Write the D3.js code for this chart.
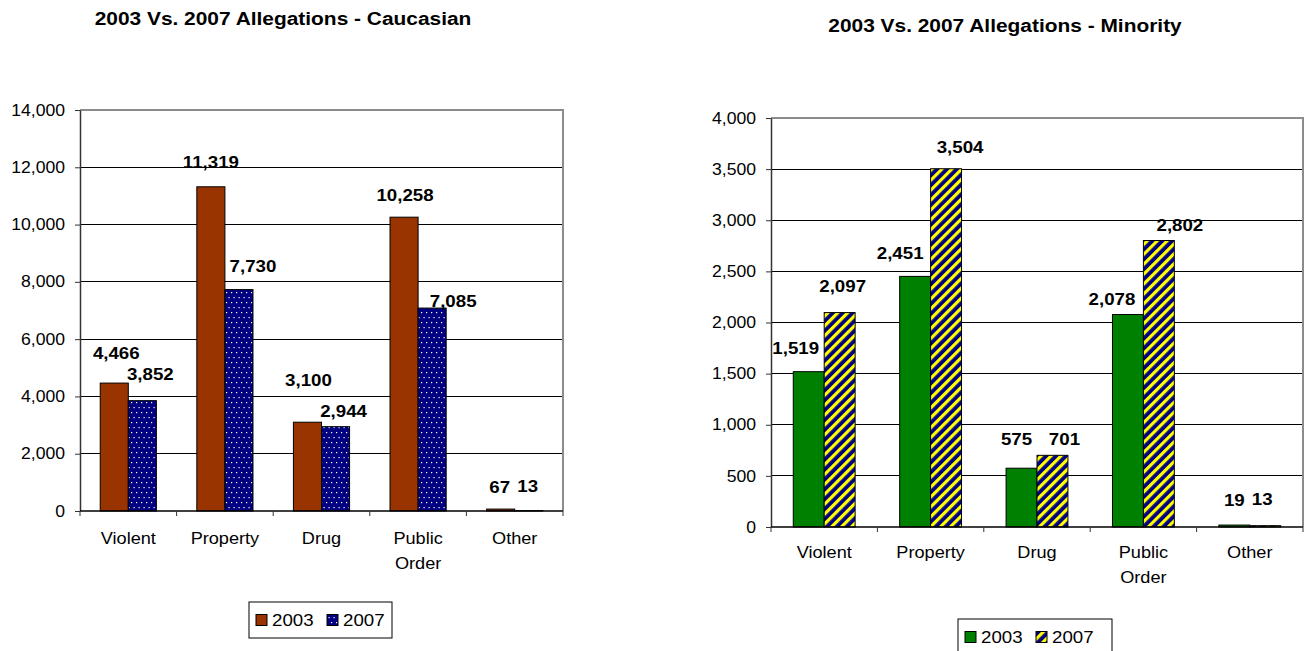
<!DOCTYPE html>
<html>
<head>
<meta charset="utf-8">
<script src="https://cdn.jsdelivr.net/npm/d3@7"></script>
<style>
  html, body { margin: 0; padding: 0; background: #fff; }
  svg { display: block; font-family: "Liberation Sans", Arial, sans-serif; }
</style>
</head>
<body>
<svg id="chart" width="1307" height="651"></svg>
<script>
// Allegation counts by offence type, 2003 vs 2007
const categories = ["Violent", "Property", "Drug", "Public Order", "Other"];
const years = ["2003", "2007"];

const caucasian2003 = [4466, 11319, 3100, 10258, 67];
const caucasian2007 = [3852, 7730, 2944, 7085, 13];
const minority2003 = [1519, 2451, 575, 2078, 19];
const minority2007 = [2097, 3504, 701, 2802, 13];

const caucasianTicks = [0, 2000, 4000, 6000, 8000, 10000, 12000, 14000];
const minorityTicks = [0, 500, 1000, 1500, 2000, 2500, 3000, 3500, 4000];

// Hand-placed value label nudges [dx, dy] from the top centre of each bar
const caucasianNudge2003 = [[2, -30], [0, -24], [1, -42], [1, -22], [-1, -22]];
const caucasianNudge2007 = [[8, -26], [14, -23], [8, -15], [21, -7], [-1, -24]];
const minorityNudge2003 = [[-13, -23], [-15, -23], [-5, -29], [-16, -15], [0, -25]];
const minorityNudge2007 = [[3, -26], [14, -21], [12, -16], [21, -15], [-3, -26]];

const SX = 1.1; // horizontal text stretch
const fmt = d3.format(",");
const svg = d3.select("#chart");
const defs = svg.append("defs");

// Navy with white dots
const dots = defs.append("pattern").attr("id", "navyDots")
  .attr("patternUnits", "userSpaceOnUse").attr("width", 5).attr("height", 10);
dots.append("rect").attr("width", 5).attr("height", 10).attr("fill", "#000080");
dots.append("rect").attr("x", 1).attr("y", 2).attr("width", 1.2).attr("height", 1.2).attr("fill", "#fff");
dots.append("rect").attr("x", 3.5).attr("y", 7).attr("width", 1.2).attr("height", 1.2).attr("fill", "#fff");

// Navy / yellow diagonal stripes
const stripes = defs.append("pattern").attr("id", "navyStripes")
  .attr("patternUnits", "userSpaceOnUse").attr("width", 7).attr("height", 7)
  .attr("patternTransform", "rotate(45)");
stripes.append("rect").attr("width", 7).attr("height", 7).attr("fill", "#000080");
stripes.append("rect").attr("width", 3.2).attr("height", 7).attr("fill", "#ffff00");

function txt(g, x, y, str, size, weight, anchor) {
  return g.append("text")
    .attr("transform", `translate(${x},${y}) scale(${SX},1)`)
    .attr("font-size", size)
    .attr("font-weight", weight || "normal")
    .attr("text-anchor", anchor || "middle")
    .attr("dominant-baseline", "central")
    .attr("fill", "#000")
    .text(str);
}

function drawChart(o) {
  const g = svg.append("g");
  const x = d3.scaleBand().domain(categories).range([o.left, o.right]).padding(0);
  const xs = d3.scaleBand().domain(years).range([0, x.bandwidth()]).paddingInner(0).paddingOuter(0.72);
  const y = d3.scaleLinear().domain([0, o.max]).range([o.bottom, o.top]);

  // title
  txt(g, o.titleX, o.titleY, o.title, 19, "bold");

  // gridlines
  g.append("g").selectAll("line").data(o.ticks.filter(t => t > 0 && t < o.max)).join("line")
    .attr("x1", o.left).attr("x2", o.right)
    .attr("y1", d => y(d)).attr("y2", d => y(d))
    .attr("stroke", "#000").attr("stroke-width", 1).attr("shape-rendering", "crispEdges");

  // plot border (top and right)
  g.append("path")
    .attr("d", `M${o.left},${y(o.max)}H${o.right}V${o.bottom}`)
    .attr("fill", "none").attr("stroke", "#8c8c8c").attr("stroke-width", 2);

  // bars
  const series = [
    { key: "2003", values: o.v2003, fill: o.fill2003, nudge: o.n2003 },
    { key: "2007", values: o.v2007, fill: o.fill2007, nudge: o.n2007 }
  ];
  series.forEach(s => {
    const rows = categories.map((c, i) => ({ c, v: s.values[i], n: s.nudge[i] }));
    g.append("g").selectAll("rect").data(rows).join("rect")
      .attr("x", d => x(d.c) + xs(s.key))
      .attr("y", d => y(d.v))
      .attr("width", xs.bandwidth())
      .attr("height", d => y(0) - y(d.v))
      .attr("fill", s.fill)
      .attr("stroke", "#000").attr("stroke-width", 1);
    rows.forEach(d => {
      txt(g, x(d.c) + xs(s.key) + xs.bandwidth() / 2 + d.n[0], y(d.v) + d.n[1], fmt(d.v), 17, "bold");
    });
  });

  // value axis
  const ya = g.append("g").attr("transform", `translate(${o.left},0)`)
    .call(d3.axisLeft(y).tickValues(o.ticks).tickFormat(fmt).tickSize(5).tickSizeOuter(0).tickPadding(10));
  ya.select(".domain").attr("stroke", "#333").attr("stroke-width", 1.5);
  ya.selectAll(".tick line").attr("stroke", "#333");
  ya.selectAll(".tick text")
    .attr("font-size", 16).attr("font-family", null).attr("fill", "#000")
    .attr("x", -15 / SX).attr("transform", `scale(${SX},1)`);

  // category axis
  const bx = g.append("g");
  bx.append("line").attr("x1", o.left).attr("x2", o.right)
    .attr("y1", o.bottom).attr("y2", o.bottom).attr("stroke", "#000").attr("stroke-width", 1.5);
  const edges = categories.map(c => x(c)).concat([o.right]);
  bx.selectAll("line.t").data(edges).join("line").attr("class", "t")
    .attr("x1", d => d).attr("x2", d => d)
    .attr("y1", o.bottom).attr("y2", o.bottom + 5).attr("stroke", "#333");
  categories.forEach(c => {
    c.split(" ").forEach((w, k) => {
      txt(g, x(c) + x.bandwidth() / 2, o.bottom + o.catDy + k * 25, w, 16.5);
    });
  });

  // legend
  const L = o.legend;
  const lg = g.append("g");
  lg.append("rect").attr("x", L.x).attr("y", L.y).attr("width", L.w).attr("height", L.h)
    .attr("fill", "#fff").attr("stroke", "#000").attr("stroke-width", 1);
  series.forEach((s, i) => {
    const sx = L.x + 7 + i * 71;
    lg.append("rect").attr("x", sx).attr("y", L.y + L.h / 2 - 5.5).attr("width", 11).attr("height", 11)
      .attr("fill", s.fill).attr("stroke", "#000").attr("stroke-width", 1);
    txt(lg, sx + 16, L.y + L.h / 2, s.key, 17, "normal", "start");
  });
}

drawChart({
  title: "2003 Vs. 2007 Allegations - Caucasian", titleX: 283, titleY: 18,
  left: 80, right: 563, top: 110, bottom: 511, max: 14000, ticks: caucasianTicks,
  v2003: caucasian2003, v2007: caucasian2007, n2003: caucasianNudge2003, n2007: caucasianNudge2007,
  fill2003: "#993300", fill2007: "url(#navyDots)", catDy: 27,
  legend: { x: 249, y: 602, w: 143, h: 36 }
});

drawChart({
  title: "2003 Vs. 2007 Allegations - Minority", titleX: 1005, titleY: 25,
  left: 771, right: 1303, top: 118, bottom: 527, max: 4000, ticks: minorityTicks,
  v2003: minority2003, v2007: minority2007, n2003: minorityNudge2003, n2007: minorityNudge2007,
  fill2003: "#008000", fill2007: "url(#navyStripes)", catDy: 25,
  legend: { x: 958, y: 619, w: 154, h: 36 }
});
</script>
</body>
</html>
